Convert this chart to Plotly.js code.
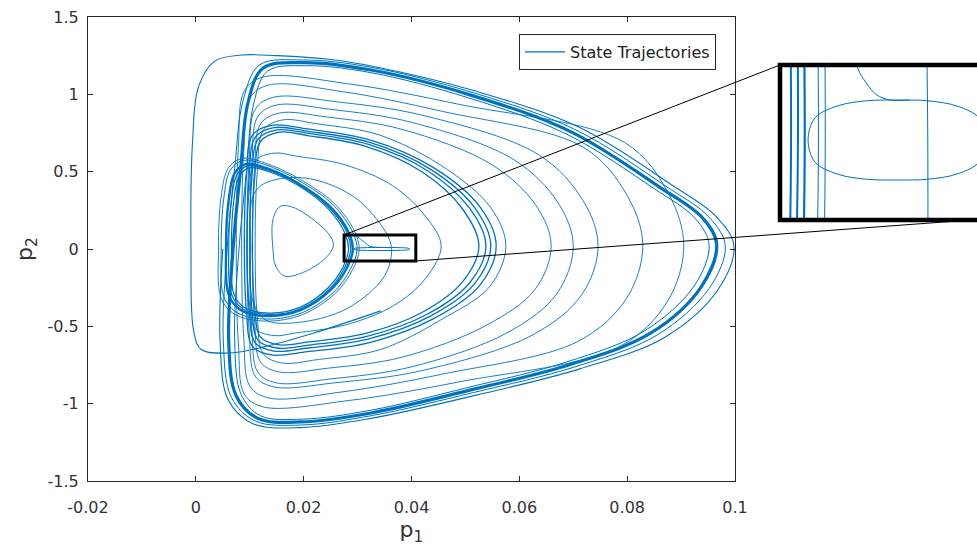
<!DOCTYPE html>
<html>
<head>
<meta charset="utf-8">
<script src="https://cdn.plot.ly/plotly-3.0.1.min.js"></script>
<style>
html,body{margin:0;padding:0;background:#fff;overflow:hidden;}
#chart{width:977px;height:547px;}
</style>
</head>
<body>
<div id="chart"></div>
<script>
// ---------- tick labels ----------
const xTickVals = [-0.02, 0, 0.02, 0.04, 0.06, 0.08, 0.1];
const xTickText = ['-0.02', '0', '0.02', '0.04', '0.06', '0.08', '0.1'];
const yTickVals = [-1.5, -1, -0.5, 0, 0.5, 1, 1.5];
const yTickText = ['-1.5', '-1', '-0.5', '0', '0.5', '1', '1.5'];
const seriesName = 'State Trajectories';

// ---------- trajectory loops (p1, p2) ----------
// transient start (outer thin path)
const outerX = [0.0343, 0.0219, 0.0126, 0.0065, 0.0010, -0.0004, -0.0009, -0.0006, 0.0005, 0.0035, 0.0085, 0.0150, 0.0250, 0.0330, 0.0520, 0.0712, 0.0880, 0.0965, 0.0998, 0.0968, 0.0870, 0.0712, 0.0520, 0.0325, 0.0195, 0.0105, 0.0060, 0.0045, 0.0050];
const outerY = [-0.400, -0.543, -0.633, -0.672, -0.650, -0.530, 0.000, 0.700, 1.050, 1.215, 1.254, 1.250, 1.225, 1.180, 1.020, 0.785, 0.420, 0.210, 0.020, -0.265, -0.570, -0.775, -0.945, -1.095, -1.155, -1.128, -0.975, -0.600, 0.000];

// main attractor (thick band)
const loopA0x = [0.0069, 0.0083, 0.0097, 0.0125, 0.0200, 0.0325, 0.0510, 0.0696, 0.0860, 0.0940, 0.0966, 0.0937, 0.0844, 0.0696, 0.0510, 0.0325, 0.0195, 0.0115, 0.0075, 0.0061, 0.0069];
const loopA0y = [0.000, 0.511, 0.950, 1.170, 1.205, 1.157, 0.995, 0.757, 0.400, 0.200, 0.030, -0.246, -0.543, -0.745, -0.911, -1.060, -1.118, -1.095, -0.950, -0.600, 0.000];
const loopA1x = [0.0058, 0.0072, 0.0088, 0.0118, 0.0200, 0.0325, 0.0515, 0.0705, 0.0870, 0.0952, 0.0982, 0.0952, 0.0856, 0.0705, 0.0515, 0.0325, 0.0195, 0.0110, 0.0066, 0.0051, 0.0058];
const loopA1y = [0.000, 0.520, 0.965, 1.190, 1.222, 1.175, 1.010, 0.770, 0.410, 0.205, 0.020, -0.255, -0.555, -0.760, -0.928, -1.078, -1.138, -1.112, -0.960, -0.600, 0.000];
const loopA2x = [0.0080, 0.0094, 0.0107, 0.0133, 0.0205, 0.0325, 0.0505, 0.0688, 0.0850, 0.0926, 0.0952, 0.0924, 0.0832, 0.0688, 0.0505, 0.0325, 0.0198, 0.0120, 0.0084, 0.0072, 0.0080];
const loopA2y = [0.000, 0.500, 0.935, 1.150, 1.185, 1.140, 0.978, 0.742, 0.390, 0.198, 0.025, -0.240, -0.530, -0.730, -0.895, -1.042, -1.100, -1.078, -0.940, -0.590, 0.000];

// nested intermediate loops
const loopM1x = [0.0075, 0.0079, 0.0090, 0.0125, 0.0283, 0.0490, 0.0795, 0.0877, 0.0905, 0.0875, 0.0785, 0.0490, 0.0283, 0.0125, 0.0090, 0.0079, 0.0075];
const loopM1y = [0, 0.667, 1.023, 1.112, 1.068, 0.934, 0.689, 0.356, 0.02, -0.337, -0.633, -0.858, -0.980, -1.021, -0.939, -0.613, 0];
const loopM2x = [0.0085, 0.0089, 0.0100, 0.0135, 0.0271, 0.0457, 0.0719, 0.0801, 0.0829, 0.0799, 0.0709, 0.0457, 0.0271, 0.0135, 0.0100, 0.0089, 0.0085];
const loopM2y = [0, 0.636, 0.975, 1.060, 1.018, 0.890, 0.657, 0.339, 0.02, -0.318, -0.597, -0.809, -0.924, -0.963, -0.886, -0.578, 0];
const loopM3x = [0.0095, 0.0099, 0.0110, 0.0145, 0.0258, 0.0421, 0.0636, 0.0718, 0.0746, 0.0716, 0.0626, 0.0421, 0.0258, 0.0145, 0.0110, 0.0099, 0.0095];
const loopM3y = [0, 0.589, 0.903, 0.982, 0.953, 0.864, 0.609, 0.314, 0.02, -0.294, -0.553, -0.785, -0.865, -0.892, -0.821, -0.535, 0];
const loopM4x = [0.0100, 0.0104, 0.0115, 0.0150, 0.0250, 0.0400, 0.0590, 0.0672, 0.0700, 0.0670, 0.0580, 0.0400, 0.0250, 0.0150, 0.0115, 0.0104, 0.0100];
const loopM4y = [0, 0.559, 0.857, 0.931, 0.903, 0.819, 0.577, 0.298, 0.02, -0.286, -0.537, -0.762, -0.840, -0.866, -0.797, -0.520, 0];
const loopM5x = [0.0105, 0.0109, 0.0120, 0.0155, 0.0244, 0.0382, 0.0549, 0.0631, 0.0659, 0.0629, 0.0539, 0.0382, 0.0244, 0.0155, 0.0120, 0.0109, 0.0105];
const loopM5y = [0, 0.527, 0.809, 0.879, 0.853, 0.774, 0.545, 0.281, 0.02, -0.262, -0.493, -0.700, -0.771, -0.795, -0.731, -0.477, 0];
const loopM6x = [0.0110, 0.0114, 0.0125, 0.0160, 0.0226, 0.0343, 0.0465, 0.0547, 0.0575, 0.0545, 0.0455, 0.0343, 0.0226, 0.0160, 0.0125, 0.0114, 0.0110];
const loopM6y = [0, 0.500, 0.767, 0.834, 0.809, 0.734, 0.517, 0.267, 0.02, -0.243, -0.457, -0.649, -0.715, -0.737, -0.678, -0.442, 0];

// cluster of loops around p1 = 0.052..0.056
const loopK4x = [0.0090, 0.0094, 0.0105, 0.0140, 0.0207, 0.0324, 0.0440, 0.0527, 0.0557, 0.0527, 0.0440, 0.0324, 0.0207, 0.0140, 0.0105, 0.0094, 0.0090];
const loopK4y = [0, 0.480, 0.736, 0.800, 0.776, 0.704, 0.528, 0.272, 0.02, -0.233, -0.452, -0.603, -0.664, -0.685, -0.630, -0.411, 0];
const loopK3x = [0.0095, 0.0099, 0.0110, 0.0145, 0.0208, 0.0321, 0.0434, 0.0517, 0.0547, 0.0517, 0.0434, 0.0321, 0.0208, 0.0145, 0.0110, 0.0099, 0.0095];
const loopK3y = [0, 0.471, 0.722, 0.785, 0.761, 0.691, 0.518, 0.267, 0.02, -0.224, -0.436, -0.581, -0.640, -0.660, -0.607, -0.396, 0];
const loopK2x = [0.0100, 0.0104, 0.0115, 0.0150, 0.0210, 0.0319, 0.0429, 0.0508, 0.0538, 0.0508, 0.0429, 0.0319, 0.0210, 0.0150, 0.0115, 0.0104, 0.0100];
const loopK2y = [0, 0.462, 0.708, 0.770, 0.747, 0.678, 0.508, 0.262, 0.02, -0.218, -0.422, -0.563, -0.621, -0.640, -0.589, -0.384, 0];
const loopK1x = [0.0105, 0.0109, 0.0120, 0.0155, 0.0210, 0.0315, 0.0420, 0.0495, 0.0525, 0.0495, 0.0420, 0.0315, 0.0210, 0.0155, 0.0120, 0.0109, 0.0105];
const loopK1y = [0, 0.453, 0.695, 0.755, 0.732, 0.664, 0.498, 0.257, 0.02, -0.211, -0.409, -0.546, -0.601, -0.620, -0.570, -0.372, 0];
const loopDx = [0.0095, 0.0099, 0.0110, 0.0145, 0.0185, 0.0275, 0.0365, 0.0426, 0.0455, 0.0426, 0.0365, 0.0275, 0.0185, 0.0145, 0.0110, 0.0099, 0.0095];
const loopDy = [0, 0.372, 0.570, 0.620, 0.601, 0.546, 0.409, 0.211, 0.02, -0.190, -0.370, -0.493, -0.543, -0.560, -0.515, -0.336, 0];

// inner thick loop and its neighbours
const loopB0x = [0.0056, 0.0061, 0.0072, 0.0093, 0.0130, 0.0189, 0.0250, 0.0284, 0.0291, 0.0280, 0.0250, 0.0195, 0.0135, 0.0083, 0.0061, 0.0056];
const loopB0y = [0.000, 0.317, 0.490, 0.549, 0.524, 0.427, 0.271, 0.103, -0.006, -0.123, -0.265, -0.394, -0.433, -0.394, -0.297, 0.000];
const loopB1x = [0.0066, 0.0070, 0.0080, 0.0099, 0.0133, 0.0190, 0.0246, 0.0277, 0.0283, 0.0273, 0.0245, 0.0194, 0.0137, 0.0090, 0.0070, 0.0066];
const loopB1y = [0.000, 0.300, 0.468, 0.525, 0.503, 0.410, 0.258, 0.098, -0.006, -0.117, -0.252, -0.376, -0.414, -0.378, -0.285, 0.000];
const loopB2x = [0.0047, 0.0052, 0.0064, 0.0087, 0.0128, 0.0190, 0.0255, 0.0291, 0.0299, 0.0287, 0.0256, 0.0197, 0.0133, 0.0077, 0.0052, 0.0047];
const loopB2y = [0.000, 0.332, 0.510, 0.572, 0.546, 0.445, 0.284, 0.108, -0.006, -0.128, -0.278, -0.412, -0.453, -0.412, -0.310, 0.000];
const loopB3x = [0.0061, 0.0066, 0.0076, 0.0096, 0.0131, 0.0190, 0.0248, 0.0281, 0.0287, 0.0276, 0.0248, 0.0195, 0.0136, 0.0087, 0.0066, 0.0061];
const loopB3y = [0.000, 0.308, 0.479, 0.537, 0.513, 0.418, 0.264, 0.100, -0.006, -0.120, -0.258, -0.385, -0.423, -0.386, -0.291, 0.000];
const loopB4x = [0.0042, 0.0047, 0.0060, 0.0084, 0.0127, 0.0191, 0.0258, 0.0295, 0.0303, 0.0291, 0.0259, 0.0198, 0.0131, 0.0073, 0.0047, 0.0042];
const loopB4y = [0.000, 0.340, 0.522, 0.585, 0.558, 0.455, 0.291, 0.111, -0.006, -0.132, -0.286, -0.424, -0.466, -0.424, -0.318, 0.000];
const loopC1x = [0.0143, 0.0143, 0.0156, 0.0180, 0.0225, 0.0250, 0.0255, 0.0240, 0.0200, 0.0165, 0.0148, 0.0143];
const loopC1y = [0.000, 0.190, 0.275, 0.270, 0.170, 0.080, 0.020, -0.060, -0.150, -0.175, -0.110, 0.000];
const loopC2x = [0.0102, 0.0105, 0.0125, 0.0200, 0.0292, 0.0352, 0.0363, 0.0349, 0.0283, 0.0200, 0.0130, 0.0105, 0.0102];
const loopC2y = [0.000, 0.330, 0.420, 0.460, 0.340, 0.110, -0.005, -0.180, -0.380, -0.470, -0.460, -0.330, 0.000];

// small elongated orbit at the tip of the inner loop (shown magnified in the inset)
const orbitEx = [0.0293, 0.0297, 0.0310, 0.0327, 0.0345, 0.0363, 0.0380, 0.0393, 0.0397, 0.0393, 0.0380, 0.0363, 0.0345, 0.0327, 0.0310, 0.0297, 0.0293];
const orbitEy = [0, 0.0055, 0.0085, 0.0098, 0.0100, 0.0098, 0.0085, 0.0055, 0, -0.0055, -0.0085, -0.0098, -0.0100, -0.0098, -0.0085, -0.0055, 0];
const entryFx = [0.0300, 0.0316, 0.0322, 0.0327, 0.0333, 0.0341, 0.0352];
const entryFy = [0.080, 0.035, 0.018, 0.0143, 0.0113, 0.0100, 0.0100];

const BLUE = '#0072BD';
const mainSet = [
  [loopM1x, loopM1y, 0.9], [loopM2x, loopM2y, 0.9], [loopM3x, loopM3y, 0.9],
  [loopM4x, loopM4y, 0.9], [loopM5x, loopM5y, 0.9], [loopM6x, loopM6y, 0.9],
  [loopDx, loopDy, 0.9], [loopC1x, loopC1y, 0.9], [loopC2x, loopC2y, 0.9],
  [loopA1x, loopA1y, 1.0], [loopA2x, loopA2y, 1.0],
  [loopK1x, loopK1y, 1.3], [loopK2x, loopK2y, 1.3], [loopK3x, loopK3y, 1.3], [loopK4x, loopK4y, 1.3],
  [loopB1x, loopB1y, 1.2], [loopB2x, loopB2y, 1.0], [loopB3x, loopB3y, 1.2], [loopB4x, loopB4y, 0.9],
  [loopA0x, loopA0y, 3.2], [loopB0x, loopB0y, 2.4],
  [orbitEx, orbitEy, 1.0], [entryFx, entryFy, 0.9]
];
const traces = [];
traces.push({x: outerX, y: outerY, type: 'scatter', mode: 'lines', name: seriesName, showlegend: true,
  line: {color: BLUE, width: 1.1, shape: 'spline', smoothing: 1}, xaxis: 'x', yaxis: 'y', hoverinfo: 'skip'});
mainSet.forEach(s => traces.push({x: s[0], y: s[1], type: 'scatter', mode: 'lines', showlegend: false,
  line: {color: BLUE, width: s[2], shape: 'spline', smoothing: 1}, xaxis: 'x', yaxis: 'y', hoverinfo: 'skip'}));
const insetSet = [
  [loopB1x, loopB1y, 2.0], [loopB3x, loopB3y, 2.0], [loopB0x, loopB0y, 2.2],
  [loopB2x, loopB2y, 1.0], [loopB4x, loopB4y, 1.0], [loopC2x, loopC2y, 1.0],
  [orbitEx, orbitEy, 1.0], [entryFx, entryFy, 1.0]
];
insetSet.forEach(s => traces.push({x: s[0], y: s[1], type: 'scatter', mode: 'lines', showlegend: false,
  line: {color: BLUE, width: s[2], shape: 'spline', smoothing: 1}, xaxis: 'x2', yaxis: 'y2', hoverinfo: 'skip'}));

const AX = '#262626';
const FONT = 'DejaVu Sans, Arial, sans-serif';
const layout = {
  width: 977, height: 547,
  margin: {l: 88, r: 0, t: 17, b: 66, pad: 0},
  paper_bgcolor: '#ffffff', plot_bgcolor: '#ffffff',
  font: {family: FONT, color: AX},
  showlegend: true,
  legend: {x: 0.7064, xanchor: 'right', y: 0.9634, yanchor: 'top', bgcolor: '#ffffff',
    bordercolor: AX, borderwidth: 1, font: {family: FONT, size: 16, color: '#222'}, itemwidth: 40},
  xaxis: {domain: [0, 0.7278], range: [-0.02, 0.1], tickvals: xTickVals, ticktext: xTickText,
    ticks: 'inside', ticklen: 5, tickcolor: AX, showline: true, linecolor: AX, linewidth: 1, mirror: 'ticks',
    showgrid: false, zeroline: false, automargin: false, ticklabelstandoff: 12,
    tickfont: {family: FONT, size: 16, color: '#333'},
    title: {text: 'p<sub>1</sub>', font: {family: FONT, size: 22, color: '#333'}, standoff: 2}, anchor: 'y'},
  yaxis: {domain: [0, 1], range: [-1.5, 1.5], tickvals: yTickVals, ticktext: yTickText,
    ticks: 'inside', ticklen: 5, tickcolor: AX, showline: true, linecolor: AX, linewidth: 1, mirror: 'ticks',
    showgrid: false, zeroline: false, automargin: false, ticklabelstandoff: 5,
    tickfont: {family: FONT, size: 16, color: '#333'},
    title: {text: 'p<sub>2</sub>', font: {family: FONT, size: 22, color: '#333'}, standoff: 8}, anchor: 'x'},
  xaxis2: {domain: [0.7807, 1], range: [0.02778, 0.03917], visible: false, anchor: 'y2'},
  yaxis2: {domain: [0.5668, 0.8922], range: [-0.0195, 0.01825], visible: false, anchor: 'x2'},
  shapes: [
    {type: 'rect', xref: 'x', yref: 'y', x0: 0.0275, x1: 0.0408, y0: -0.078, y1: 0.0905,
      line: {color: '#000', width: 3}, layer: 'above'},
    {type: 'rect', xref: 'paper', yref: 'paper', x0: 0.7784, x1: 1.03, y0: 0.5625, y1: 0.8966,
      line: {color: '#000', width: 4.5}, layer: 'above'},
    {type: 'line', xref: 'paper', yref: 'paper', x0: 0.2880, y0: 0.5302, x1: 0.7784, y1: 0.8966,
      line: {color: '#000', width: 1}, layer: 'above'},
    {type: 'line', xref: 'paper', yref: 'paper', x0: 0.3678, y0: 0.4741, x1: 1.0236, y1: 0.5668,
      line: {color: '#000', width: 1}, layer: 'above'}
  ]
};
Plotly.newPlot('chart', traces, layout, {staticPlot: true, displayModeBar: false});
</script>
</body>
</html>
